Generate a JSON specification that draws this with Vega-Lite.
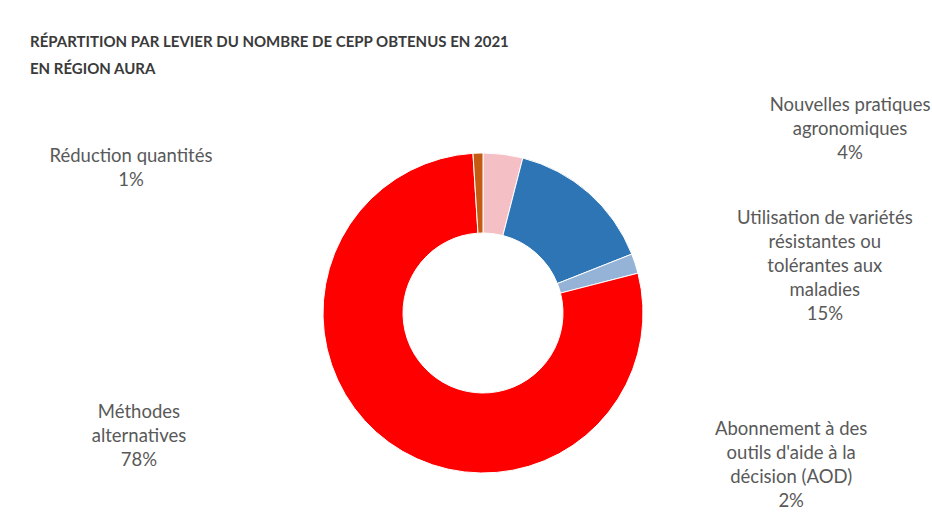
{
  "$schema": "https://vega.github.io/schema/vega-lite/v6.json",
  "width": 898,
  "height": 418,
  "autosize": "none",
  "padding": {"left": 34, "top": 104, "right": 0, "bottom": 0},
  "background": "white",
  "config": {"view": {"stroke": null}},
  "title": {
    "text": ["RÉPARTITION PAR LEVIER DU NOMBRE DE CEPP OBTENUS EN 2021", "EN RÉGION AURA"],
    "anchor": "start",
    "frame": "group",
    "dx": -4,
    "offset": 18,
    "font": "Lato",
    "fontSize": 15,
    "fontWeight": "bold",
    "color": "#3A3A3A",
    "lineHeight": 27
  },
  "data": {
    "values": [
      {"levier": "Nouvelles pratiques\nagronomiques", "pct": 4},
      {"levier": "Utilisation de variétés\nrésistantes ou\ntolérantes aux\nmaladies", "pct": 15},
      {"levier": "Abonnement à des\noutils d'aide à la\ndécision (AOD)", "pct": 2},
      {"levier": "Méthodes\nalternatives", "pct": 78},
      {"levier": "Réduction quantités", "pct": 1}
    ]
  },
  "transform": [
    {"window": [{"op": "row_number", "as": "rang"}]},
    {"calculate": "datum.levier + '\\n' + datum.pct + '%'", "as": "lbl"}
  ],
  "encoding": {
    "theta": {"field": "pct", "type": "quantitative", "stack": true},
    "order": {"field": "rang", "type": "quantitative"}
  },
  "layer": [
    {
      "mark": {"type": "arc", "innerRadius": 80, "outerRadius": 160, "stroke": "white", "strokeWidth": 1},
      "encoding": {
        "color": {
          "field": "levier",
          "type": "nominal",
          "scale": {
            "domain": ["Nouvelles pratiques\nagronomiques", "Utilisation de variétés\nrésistantes ou\ntolérantes aux\nmaladies", "Abonnement à des\noutils d'aide à la\ndécision (AOD)", "Méthodes\nalternatives", "Réduction quantités"],
            "range": ["#F5BFC6", "#2E75B6", "#95B3D7", "#FF0000", "#C55A11"]
          },
          "legend": null
        }
      }
    },
    {
      "mark": {"type": "text", "radius": 160, "dx": 347, "dy": -49, "font": "Lato", "fontSize": 18.5, "lineHeight": 24, "lineBreak": "\n", "color": "#595959", "align": "center", "baseline": "middle"},
      "encoding": {"text": {"condition": {"test": "datum.rang == 1", "field": "lbl"}, "value": ""}}
    },
    {
      "mark": {"type": "text", "radius": 160, "dx": 236, "dy": 25, "font": "Lato", "fontSize": 18.5, "lineHeight": 24, "lineBreak": "\n", "color": "#595959", "align": "center", "baseline": "middle"},
      "encoding": {"text": {"condition": {"test": "datum.rang == 2", "field": "lbl"}, "value": ""}}
    },
    {
      "mark": {"type": "text", "radius": 160, "dx": 156, "dy": 165, "font": "Lato", "fontSize": 18.5, "lineHeight": 24, "lineBreak": "\n", "color": "#595959", "align": "center", "baseline": "middle"},
      "encoding": {"text": {"condition": {"test": "datum.rang == 3", "field": "lbl"}, "value": ""}}
    },
    {
      "mark": {"type": "text", "radius": 160, "dx": -250, "dy": -30, "font": "Lato", "fontSize": 18.5, "lineHeight": 24, "lineBreak": "\n", "color": "#595959", "align": "center", "baseline": "middle"},
      "encoding": {"text": {"condition": {"test": "datum.rang == 4", "field": "lbl"}, "value": ""}}
    },
    {
      "mark": {"type": "text", "radius": 160, "dx": -347, "dy": 3, "font": "Lato", "fontSize": 18.5, "lineHeight": 24, "lineBreak": "\n", "color": "#595959", "align": "center", "baseline": "middle"},
      "encoding": {"text": {"condition": {"test": "datum.rang == 5", "field": "lbl"}, "value": ""}}
    }
  ]
}
